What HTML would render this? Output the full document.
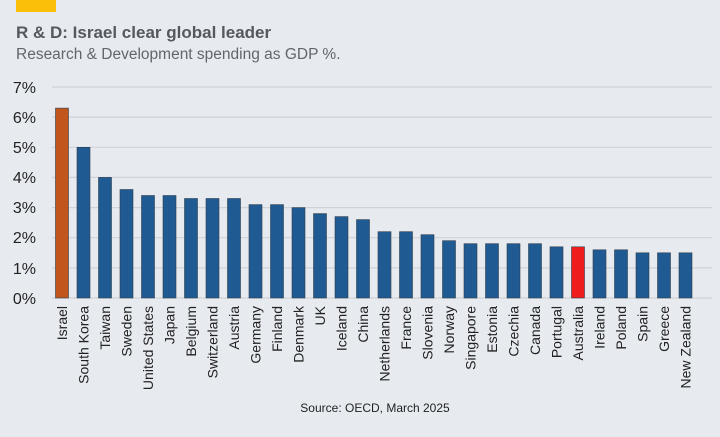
<!DOCTYPE html>
<html><head><style>
body{margin:0;width:720px;height:432px;background:#e7ebf0;overflow:hidden;font-family:"Liberation Sans",sans-serif}
</style></head><body>
<svg width="720" height="432" viewBox="0 0 720 432" xmlns="http://www.w3.org/2000/svg">
<rect width="720" height="432" fill="#e7ebf0"/>
<rect x="16" y="0" width="40" height="12" fill="#fbbf0a"/>
<text x="16" y="38" font-size="17" font-weight="bold" fill="#55595f">R &amp; D: Israel clear global leader</text>
<text x="16" y="59" font-size="15.5" fill="#62666c">Research &amp; Development spending as GDP %.</text>
<g stroke="#cfd3d8" stroke-width="1.2">
<line x1="52" x2="712" y1="87" y2="87"/><line x1="52" x2="712" y1="117.1" y2="117.1"/>
<line x1="52" x2="712" y1="147.3" y2="147.3"/><line x1="52" x2="712" y1="177.4" y2="177.4"/>
<line x1="52" x2="712" y1="207.6" y2="207.6"/><line x1="52" x2="712" y1="237.7" y2="237.7"/>
<line x1="52" x2="712" y1="267.9" y2="267.9"/><line x1="52" x2="712" y1="298" y2="298"/>
</g>
<g font-size="16" fill="#222" text-anchor="end">
<text x="36" y="93">7%</text><text x="36" y="123">6%</text><text x="36" y="153">5%</text>
<text x="36" y="183">4%</text><text x="36" y="213">3%</text><text x="36" y="243">2%</text>
<text x="36" y="274">1%</text><text x="36" y="304">0%</text>
</g>
<g fill="#1f5a92" stroke="#2f3e4e" stroke-width="0.6">
<rect x="55.5" y="108.1" width="13" height="189.9" fill="#c0561c"/>
<rect x="77" y="147.3" width="13" height="150.7"/>
<rect x="98.5" y="177.4" width="13" height="120.6"/>
<rect x="120" y="189.5" width="13" height="108.5"/>
<rect x="141.5" y="195.5" width="13" height="102.5"/>
<rect x="163" y="195.5" width="13" height="102.5"/>
<rect x="184.5" y="198.5" width="13" height="99.5"/>
<rect x="206" y="198.5" width="13" height="99.5"/>
<rect x="227.5" y="198.5" width="13" height="99.5"/>
<rect x="249" y="204.6" width="13" height="93.4"/>
<rect x="270.5" y="204.6" width="13" height="93.4"/>
<rect x="292" y="207.6" width="13" height="90.4"/>
<rect x="313.5" y="213.6" width="13" height="84.4"/>
<rect x="335" y="216.6" width="13" height="81.4"/>
<rect x="356.5" y="219.6" width="13" height="78.4"/>
<rect x="378" y="231.7" width="13" height="66.3"/>
<rect x="399.5" y="231.7" width="13" height="66.3"/>
<rect x="421" y="234.7" width="13" height="63.3"/>
<rect x="442.5" y="240.7" width="13" height="57.3"/>
<rect x="464" y="243.7" width="13" height="54.3"/>
<rect x="485.5" y="243.7" width="13" height="54.3"/>
<rect x="507" y="243.7" width="13" height="54.3"/>
<rect x="528.5" y="243.7" width="13" height="54.3"/>
<rect x="550" y="246.8" width="13" height="51.2"/>
<rect x="571.5" y="246.8" width="13" height="51.2" fill="#ee1c1c"/>
<rect x="593" y="249.8" width="13" height="48.2"/>
<rect x="614.5" y="249.8" width="13" height="48.2"/>
<rect x="636" y="252.8" width="13" height="45.2"/>
<rect x="657.5" y="252.8" width="13" height="45.2"/>
<rect x="679" y="252.8" width="13" height="45.2"/>
</g>
<g font-size="14" fill="#222" text-anchor="end">
<text transform="translate(67,306) rotate(-90)">Israel</text>
<text transform="translate(88.5,306) rotate(-90)">South Korea</text>
<text transform="translate(110,306) rotate(-90)">Taiwan</text>
<text transform="translate(131.5,306) rotate(-90)">Sweden</text>
<text transform="translate(153,306) rotate(-90)">United States</text>
<text transform="translate(174.5,306) rotate(-90)">Japan</text>
<text transform="translate(196,306) rotate(-90)">Belgium</text>
<text transform="translate(217.5,306) rotate(-90)">Switzerland</text>
<text transform="translate(239,306) rotate(-90)">Austria</text>
<text transform="translate(260.5,306) rotate(-90)">Germany</text>
<text transform="translate(282,306) rotate(-90)">Finland</text>
<text transform="translate(303.5,306) rotate(-90)">Denmark</text>
<text transform="translate(325,306) rotate(-90)">UK</text>
<text transform="translate(346.5,306) rotate(-90)">Iceland</text>
<text transform="translate(368,306) rotate(-90)">China</text>
<text transform="translate(389.5,306) rotate(-90)">Netherlands</text>
<text transform="translate(411,306) rotate(-90)">France</text>
<text transform="translate(432.5,306) rotate(-90)">Slovenia</text>
<text transform="translate(454,306) rotate(-90)">Norway</text>
<text transform="translate(475.5,306) rotate(-90)">Singapore</text>
<text transform="translate(497,306) rotate(-90)">Estonia</text>
<text transform="translate(518.5,306) rotate(-90)">Czechia</text>
<text transform="translate(540,306) rotate(-90)">Canada</text>
<text transform="translate(561.5,306) rotate(-90)">Portugal</text>
<text transform="translate(583,306) rotate(-90)">Australia</text>
<text transform="translate(604.5,306) rotate(-90)">Ireland</text>
<text transform="translate(626,306) rotate(-90)">Poland</text>
<text transform="translate(647.5,306) rotate(-90)">Spain</text>
<text transform="translate(669,306) rotate(-90)">Greece</text>
<text transform="translate(690.5,306) rotate(-90)">New Zealand</text>
</g>
<text x="375" y="412" font-size="12" fill="#222" text-anchor="middle">Source: OECD, March 2025</text>
</svg>
</body></html>
